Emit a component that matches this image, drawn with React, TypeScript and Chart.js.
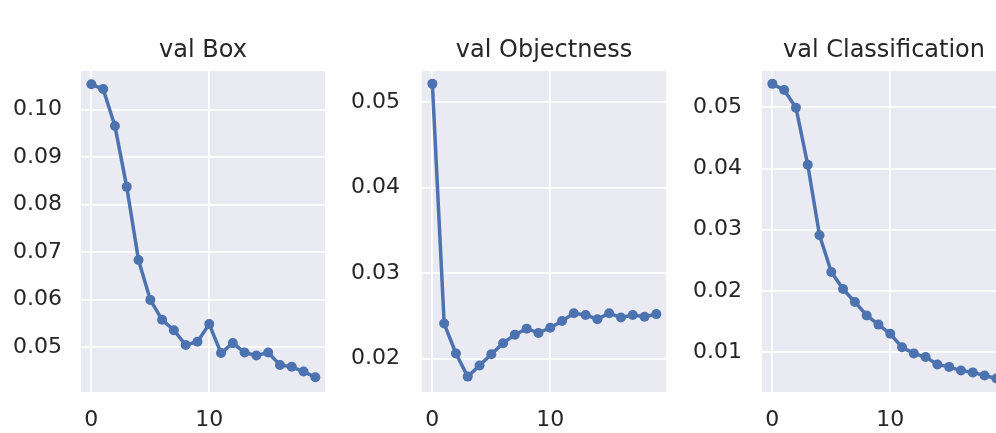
import React, { useEffect, useRef } from 'react';
import { Chart, registerables } from 'chart.js';

Chart.register(...registerables);

// ---- data ----
const epochs = [0, 1, 2, 3, 4, 5, 6, 7, 8, 9, 10, 11, 12, 13, 14, 15, 16, 17, 18, 19];

const valBox = [
  0.1053, 0.1043, 0.0965, 0.0837, 0.0683, 0.0599, 0.0557, 0.0535, 0.0504, 0.0511,
  0.0548, 0.0487, 0.0508, 0.0488, 0.0482, 0.0488, 0.0462, 0.0458, 0.0448, 0.0436,
];

const valObjectness = [
  0.0521, 0.0241, 0.0206, 0.0179, 0.0192, 0.0205, 0.0218, 0.0228, 0.0235, 0.0230,
  0.0236, 0.0244, 0.0253, 0.0251, 0.0246, 0.0253, 0.0248, 0.0251, 0.0249, 0.0252,
];

const valClassification = [
  0.0538, 0.0528, 0.0499, 0.0406, 0.0291, 0.0231, 0.0203, 0.0182, 0.0160, 0.0145,
  0.0130, 0.0108, 0.0098, 0.0092, 0.0080, 0.0076, 0.0070, 0.0067, 0.0062, 0.0057,
];

const titles = ['val Box', 'val Objectness', 'val Classification'];
const xTickStep = 10;
const yTickStep = 0.01;

// ---- styling ----
const LINE_COLOR = '#4C72B0';
const BG = '#EAEAF2';
const TEXT = '#262626';
const FONT = 'DejaVu Sans';

const bgPlugin = {
  id: 'plotBg',
  beforeDraw(chart: any) {
    const { ctx, chartArea } = chart;
    ctx.save();
    ctx.fillStyle = BG;
    ctx.fillRect(chartArea.left, chartArea.top, chartArea.right - chartArea.left, chartArea.bottom - chartArea.top);
    ctx.restore();
  },
};

const titlePlugin = {
  id: 'panelTitle',
  afterDraw(chart: any, _args: any, opts: any) {
    const { ctx, chartArea } = chart;
    ctx.save();
    ctx.font = `24px "${FONT}"`;
    ctx.fillStyle = TEXT;
    ctx.textAlign = 'center';
    ctx.textBaseline = 'alphabetic';
    ctx.fillText(opts.text, (chartArea.left + chartArea.right) / 2, 57);
    ctx.restore();
  },
};

type PanelProps = {
  title: string;
  values: number[];
  yMin: number;
  yMax: number;
  left: number;
  yWidth: number;
  tickPad: number;
  padRight: number;
};

const W = 340;
const H = 433;

function Panel({ title, values, yMin, yMax, left, yWidth, tickPad, padRight }: PanelProps) {
  const ref = useRef<HTMLCanvasElement>(null);
  useEffect(() => {
    if (!ref.current) return;
    const chart = new Chart(ref.current, {
      type: 'line',
      data: {
        datasets: [
          {
            data: epochs.map((e, i) => ({ x: e, y: values[i] })),
            borderColor: LINE_COLOR,
            backgroundColor: LINE_COLOR,
            borderWidth: 3.5,
            pointRadius: 5,
            pointBorderWidth: 0,
            pointBackgroundColor: LINE_COLOR,
            tension: 0,
          },
        ],
      },
      options: {
        responsive: false,
        animation: false,
        events: [],
        layout: { padding: { top: 71, bottom: 0, left: 0, right: padRight } },
        plugins: {
          legend: { display: false },
          tooltip: { enabled: false },
          title: { display: false },
          panelTitle: { text: title },
        } as any,
        scales: {
          x: {
            type: 'linear',
            min: -0.88,
            max: 19.82,
            afterFit: (s: any) => {
              s.height = 41;
            },
            border: { display: false },
            grid: { color: '#ffffff', lineWidth: 1.8, drawTicks: false },
            ticks: {
              stepSize: xTickStep,
              includeBounds: false,
              padding: 15,
              color: TEXT,
              font: { family: FONT, size: 22 },
              callback: (v: any) => String(v),
            },
          },
          y: {
            type: 'linear',
            min: yMin,
            max: yMax,
            afterFit: (s: any) => {
              s.width = yWidth;
            },
            border: { display: false },
            grid: { color: '#ffffff', lineWidth: 1.8, drawTicks: false },
            ticks: {
              stepSize: yTickStep,
              includeBounds: false,
              padding: tickPad,
              color: TEXT,
              font: { family: FONT, size: 22 },
              callback: (v: any) => Number(v).toFixed(2),
            },
          },
        },
      },
      plugins: [bgPlugin, titlePlugin],
    } as any);
    return () => chart.destroy();
  }, []);
  return (
    <canvas
      ref={ref}
      width={W}
      height={H}
      style={{ position: 'absolute', left, top: 0, width: W, height: H }}
    />
  );
}

export default function App() {
  return (
    <div
      style={{
        position: 'fixed',
        left: 0,
        top: 0,
        width: 996,
        height: 433,
        overflow: 'hidden',
        background: '#ffffff',
      }}
    >
      <Panel title={titles[0]} values={valBox} yMin={0.0405} yMax={0.1081} left={0} yWidth={81} tickPad={19} padRight={15} />
      <Panel title={titles[1]} values={valObjectness} yMin={0.0161} yMax={0.0536} left={340} yWidth={82} tickPad={22} padRight={14} />
      <Panel title={titles[2]} values={valClassification} yMin={0.0035} yMax={0.0559} left={680} yWidth={82} tickPad={20} padRight={14} />
    </div>
  );
}
